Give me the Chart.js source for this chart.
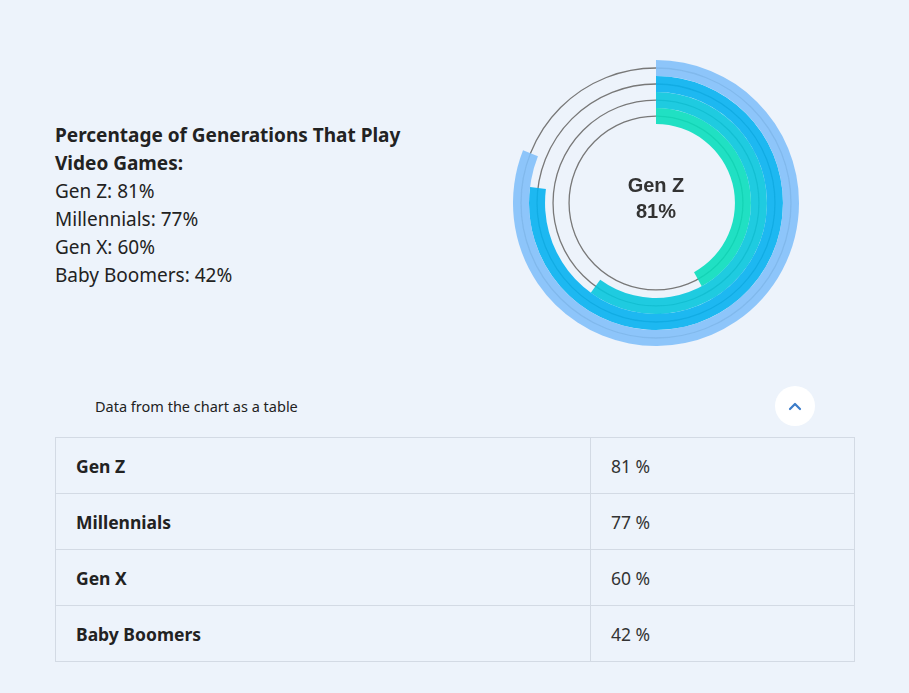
<!DOCTYPE html>
<html>
<head>
<meta charset="utf-8">
<script src="https://cdn.jsdelivr.net/npm/chart.js@4.4.0/dist/chart.umd.min.js"></script>
<style>
  html, body { margin: 0; padding: 0; }
  body {
    width: 909px; height: 693px; background: #edf3fb; position: relative;
    font-family: "Noto Sans", "Open Sans", sans-serif; color: #222; overflow: hidden;
  }
  #summary { position: absolute; left: 55px; top: 121px; width: 370px; font-size: 19px; line-height: 28px; }
  #summary b { font-weight: 700; }
  #chartBox { position: absolute; left: 513px; top: 60px; width: 286px; height: 286px; }
  #caption { position: absolute; left: 95px; top: 396px; font-size: 14.5px; line-height: 20px; color: #222; }
  #toggle {
    position: absolute; left: 775px; top: 386px; width: 40px; height: 40px;
    border-radius: 50%; background: #fff;
  }
  #toggle svg { position: absolute; left: 13px; top: 14px; }
  table {
    position: absolute; left: 55px; top: 437px; width: 800px;
    border-collapse: collapse; font-size: 17.5px;
  }
  td { border: 1px solid #d3dae4; height: 55px; padding: 0 0 0 20px; }
  td.name { width: 514px; font-weight: 700; color: #222; }
  td.val { color: #333; }
</style>
</head>
<body>
<div id="summary"></div>
<div id="chartBox"><canvas id="rings" width="286" height="286"></canvas></div>
<div id="caption">Data from the chart as a table</div>
<div id="toggle">
  <svg width="14" height="12" viewBox="0 0 14 12"><polyline points="2,9 7,4 12,9" fill="none" stroke="#3b7cc9" stroke-width="2.2" stroke-linecap="round" stroke-linejoin="round"/></svg>
</div>
<table id="dataTable"></table>

<script>
var title = 'Percentage of Generations That Play Video Games:';
var generations = ['Gen Z', 'Millennials', 'Gen X', 'Baby Boomers'];
var percentages = [81, 77, 60, 42];
var ringColors = ['rgba(130,192,249,0.9)', 'rgba(5,177,239,0.9)', 'rgba(8,199,221,0.9)', 'rgba(9,222,188,0.9)'];

// text block and table
var summary = document.getElementById('summary');
summary.innerHTML = '<b>' + title + '</b><br>' +
    generations.map((g, i) => g + ': ' + percentages[i] + '%').join('<br>');

var table = document.getElementById('dataTable');
table.innerHTML = generations.map((g, i) =>
    '<tr><td class="name">' + g + '</td><td class="val">' + percentages[i] + ' %</td></tr>'
).join('');

// thin gray track at the middle of each ring
var trackLines = {
    id: 'trackLines',
    beforeDatasetsDraw(chart) {
        var ctx = chart.ctx;
        ctx.save();
        ctx.strokeStyle = '#787878';
        ctx.lineWidth = 1.3;
        chart.data.datasets.forEach((ds, i) => {
            var arc = chart.getDatasetMeta(i).data[0];
            var r = (arc.innerRadius + arc.outerRadius) / 2;
            ctx.beginPath();
            ctx.arc(arc.x, arc.y, r, 0, Math.PI * 2);
            ctx.stroke();
        });
        ctx.restore();
    }
};

// label in the middle
var centerLabel = {
    id: 'centerLabel',
    afterDraw(chart) {
        var ctx = chart.ctx;
        var arc = chart.getDatasetMeta(0).data[0];
        ctx.save();
        ctx.fillStyle = '#333';
        ctx.font = 'bold 20px "Liberation Sans", Arial, sans-serif';
        ctx.textAlign = 'center';
        ctx.textBaseline = 'middle';
        ctx.fillText(generations[0], arc.x, arc.y - 17);
        ctx.fillText(percentages[0] + '%', arc.x, arc.y + 9);
        ctx.restore();
    }
};

var ctx = document.getElementById('rings').getContext('2d');

var chartData = {
    labels: ['value', 'rest'],
    datasets: generations.map((g, i) => ({
        label: g,
        data: [percentages[i], 100 - percentages[i]],
        backgroundColor: [ringColors[i], 'rgba(0,0,0,0)'],
        borderWidth: 0
    }))
};

var myChart = new Chart(ctx, {
    type: 'doughnut',
    data: chartData,
    options: {
        responsive: false,
        animation: false,
        cutout: '55.2%',
        layout: { padding: 0 },
        plugins: {
            legend: { display: false },
            tooltip: { enabled: false }
        }
    },
    plugins: [trackLines, centerLabel]
});
</script>
</body>
</html>
